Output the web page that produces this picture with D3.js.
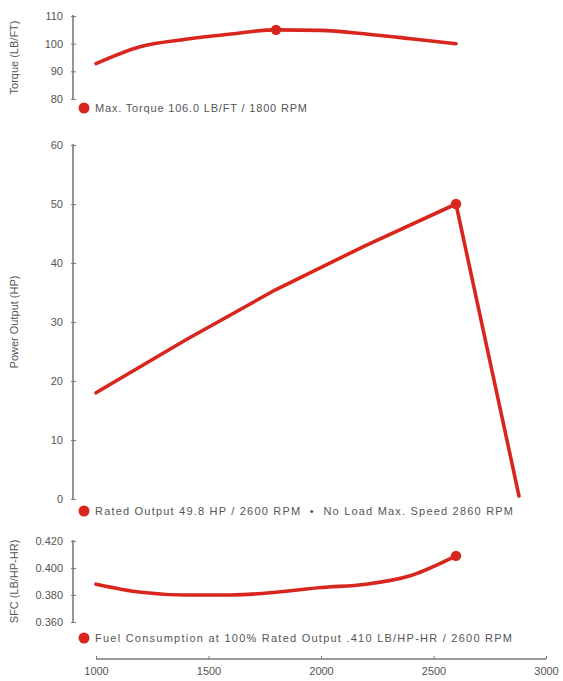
<!DOCTYPE html>
<html>
<head>
<meta charset="utf-8">
<script src="https://cdn.jsdelivr.net/npm/d3@7"></script>
<style>
  html, body { margin: 0; padding: 0; background: #fff; }
  svg { display: block; }
  text { font-family: "Liberation Sans", Arial, sans-serif; fill: #555; }
</style>
</head>
<body>
<svg id="chart" width="563" height="681"></svg>
<script>
// ---- data ----
const rpmTicks = [1000, 1500, 2000, 2500, 3000];

const torqueRpm = [1000, 1200, 1400, 1600, 1800, 2000, 2200, 2400, 2600];
const torqueVal = [92.8, 99.0, 101.6, 103.5, 105.0, 104.8, 103.5, 101.8, 100.0];
const torqueTicks = [80, 90, 100, 110];
const torquePeak = { rpm: 1800, val: 105.0 };

const powerRpm = [1000, 1400, 1800, 2200, 2600, 2880];
const powerVal = [18.0, 27.0, 35.5, 43.0, 50.0, 0.5];
const powerTicks = [0, 10, 20, 30, 40, 50, 60];
const powerPeak = { rpm: 2600, val: 50.0 };

const sfcRpm = [1000, 1200, 1400, 1600, 1800, 2000, 2200, 2400, 2600];
const sfcVal = [0.388, 0.382, 0.380, 0.380, 0.382, 0.3855, 0.388, 0.3945, 0.409];
const sfcTicks = [0.360, 0.380, 0.400, 0.420];
const sfcPeak = { rpm: 2600, val: 0.409 };

const legendTexts = [
  "Max. Torque 106.0 LB/FT / 1800 RPM",
  "Rated Output 49.8 HP / 2600 RPM  \u2022  No Load Max. Speed 2860 RPM",
  "Fuel Consumption at 100% Rated Output .410 LB/HP-HR / 2600 RPM"
];
const axisTitles = ["Torque (LB/FT)", "Power Output (HP)", "SFC (LB/HP-HR)"];

// ---- layout ----
const RED = "#d8261f";
const AXIS = "#7a7a7a";
const svg = d3.select("#chart");
const axisX = 73;
const x = d3.scaleLinear().domain([1000, 3000]).range([96, 546]);

const panels = [
  { rpm: torqueRpm, val: torqueVal, ticks: torqueTicks, peak: torquePeak, domain: [80, 110], range: [99, 16],
    fmt: d3.format("d"), curve: d3.curveMonotoneX, legendY: 108, legendW: 212, title: axisTitles[0], legend: legendTexts[0] },
  { rpm: powerRpm, val: powerVal, ticks: powerTicks, peak: powerPeak, domain: [0, 60], range: [499, 145],
    fmt: d3.format("d"), curve: d3.curveLinear, legendY: 511, legendW: 418, title: axisTitles[1], legend: legendTexts[1] },
  { rpm: sfcRpm, val: sfcVal, ticks: sfcTicks, peak: sfcPeak, domain: [0.36, 0.42], range: [622, 541],
    fmt: d3.format(".3f"), curve: d3.curveMonotoneX, legendY: 638, legendW: 417, title: axisTitles[2], legend: legendTexts[2] }
];

panels.forEach(p => {
  const y = d3.scaleLinear().domain(p.domain).range(p.range);
  const g = svg.append("g");

  // y axis
  const ax = g.append("g").attr("transform", `translate(${axisX},0)`)
    .call(d3.axisLeft(y).tickValues(p.ticks).tickFormat(p.fmt).tickSize(3).tickPadding(7));
  ax.select(".domain").attr("stroke", AXIS).attr("stroke-width", 1.6).attr("d", `M0,${p.range[0] + 1}V${p.range[1] - 1}`);
  ax.selectAll(".tick line").attr("stroke", AXIS).attr("x1", -2).attr("x2", 3);
  ax.selectAll(".tick text").attr("fill", "#666").style("font-size", "11px")
    .style("font-family", "'Liberation Sans', Arial, sans-serif");

  // title
  const cy = (p.range[0] + p.range[1]) / 2;
  g.append("text").attr("transform", `translate(18,${cy}) rotate(-90)`)
    .attr("text-anchor", "middle").style("font-size", "11px").attr("fill", "#666").text(p.title);

  // line
  const pts = p.rpm.map((r, i) => [r, p.val[i]]);
  g.append("path").datum(pts)
    .attr("fill", "none").attr("stroke", RED).attr("stroke-width", 3.6)
    .attr("stroke-linecap", "round").attr("stroke-linejoin", "round")
    .attr("d", d3.line().x(d => x(d[0])).y(d => y(d[1])).curve(p.curve));

  // peak dot
  g.append("circle").attr("cx", x(p.peak.rpm)).attr("cy", y(p.peak.val)).attr("r", 5.2).attr("fill", RED);

  // legend
  g.append("circle").attr("cx", 84).attr("cy", p.legendY).attr("r", 5.5).attr("fill", RED);
  g.append("text").attr("x", 95).attr("y", p.legendY + 4).style("font-size", "11px").attr("fill", "#555")
    .attr("textLength", p.legendW).attr("lengthAdjust", "spacing")
    .style("white-space", "pre").text(p.legend);
});

// x axis
const xa = svg.append("g").attr("transform", "translate(0,659)")
  .call(d3.axisTop(x).tickValues(rpmTicks).tickFormat(d3.format("d")).tickSize(3));
xa.select(".domain").attr("stroke", AXIS).attr("stroke-width", 1.6).attr("d", `M${x(1000)},0H${x(3000)}`);
xa.selectAll(".tick line").attr("stroke", AXIS);
xa.selectAll(".tick text").attr("y", 16).attr("dy", 0).attr("fill", "#666").style("font-size", "11px")
  .style("font-family", "'Liberation Sans', Arial, sans-serif");
</script>
</body>
</html>
